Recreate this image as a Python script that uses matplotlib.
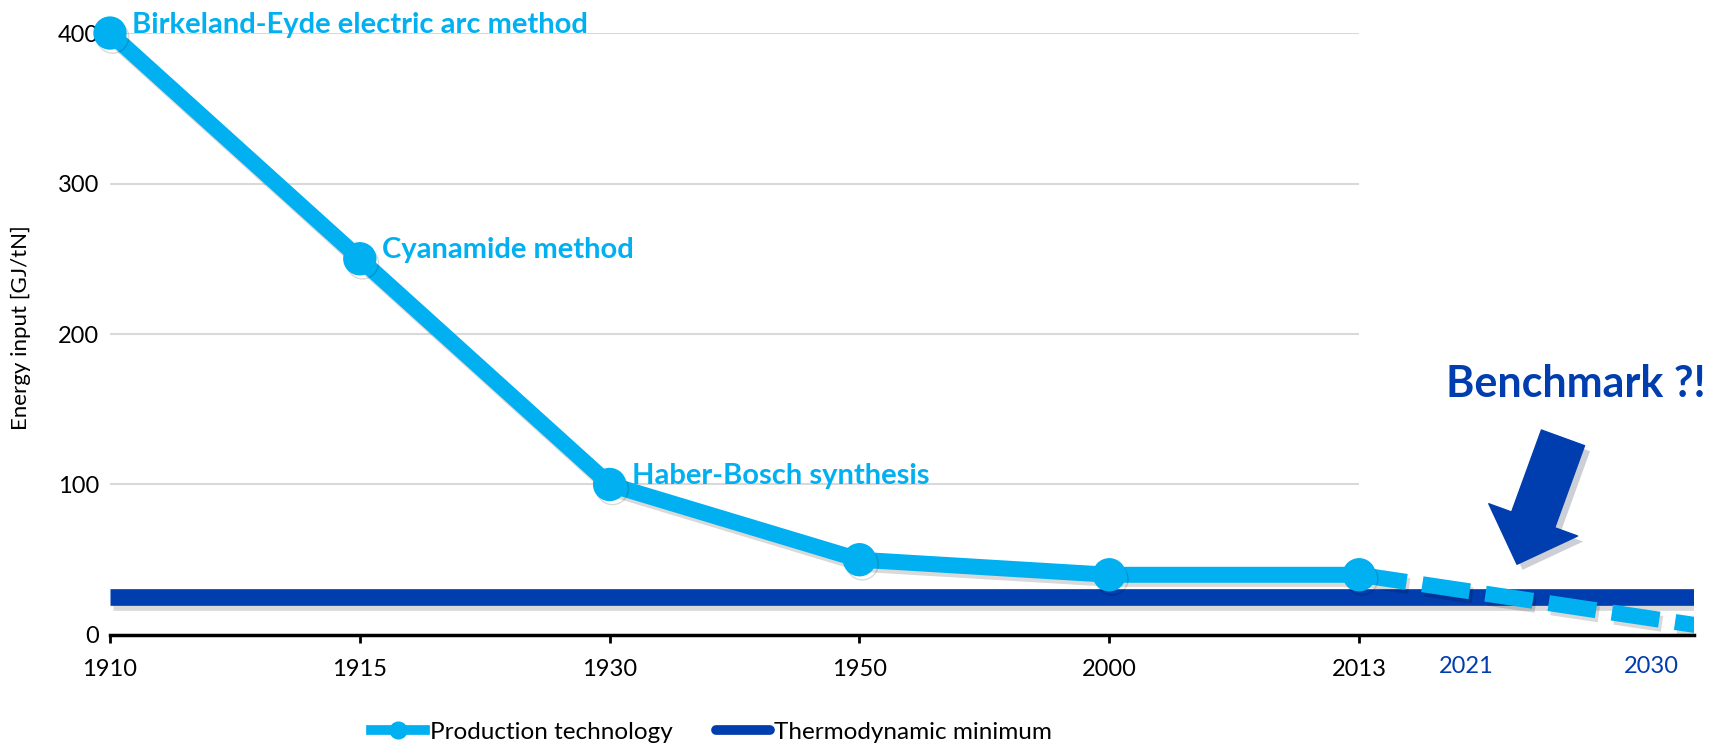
import matplotlib
matplotlib.use("Agg")
import matplotlib.pyplot as plt
import matplotlib.patheffects as pe
from matplotlib.lines import Line2D

plt.rcParams['font.family'] = ['Lato', 'DejaVu Sans']

# data
years = ["1910", "1915", "1930", "1950", "2000", "2013"]
energy = [400, 250, 100, 50, 40, 40]
methods = ["Birkeland-Eyde electric arc method", "Cyanamide method", "Haber-Bosch synthesis"]
projection = [40, 6]
future_years = ["2021", "2030"]
thermo_min = 25
y_ticks = [0, 100, 200, 300, 400]

LIGHT = "#00B0F0"
DARK = "#003DAE"

# layout (category index units)
x_end = 6.34
proj_end = 6.37
future_pos = [5.43, 6.17]

fig = plt.figure(figsize=(17.32, 7.51), dpi=100)
ax = fig.add_axes([0.0635, 0.1545, 0.978 - 0.0635, 0.956 - 0.1545])

xs = list(range(len(years)))
shadow = [pe.SimpleLineShadow(offset=(2, -3), alpha=0.15, shadow_color='k'), pe.Normal()]

ax.hlines(y_ticks[1:], 0, xs[-1], color="#D9D9D9", lw=1.5, zorder=1)

ax.plot([0, x_end], [thermo_min, thermo_min], color=DARK, lw=12,
        solid_capstyle='butt', zorder=3, path_effects=shadow)

ax.plot([xs[-1], proj_end], projection, color=LIGHT, lw=11.5, ls=(0, (3.0, 1.0)),
        dash_capstyle='butt', zorder=4, path_effects=shadow)

ax.plot(xs, energy, color=LIGHT, lw=11.5, marker='o', ms=23,
        solid_capstyle='round', zorder=5, clip_on=False, path_effects=shadow)

for i, name in enumerate(methods):
    ax.annotate(name, (xs[i], energy[i]), xytext=(16, 6), textcoords='offset points',
                color=LIGHT, fontsize=21, fontweight='bold', ha='left', va='center',
                zorder=6)

ax.text(5.348, 158, "Benchmark ?!", color=DARK, fontsize=31, fontweight='bold',
        ha='left', va='baseline')

ax.annotate('', xy=(5.632, 47), xytext=(5.816, 131),
            arrowprops=dict(arrowstyle='simple,tail_width=33,head_width=68,head_length=34',
                            fc=DARK, ec=DARK, mutation_scale=1, shrinkA=0, shrinkB=0,
                            path_effects=[pe.SimplePatchShadow(offset=(4, -4), alpha=0.2), pe.Normal()]),
            zorder=6)

ax.set_xlim(0, x_end)
ax.set_ylim(0, 400)
ax.set_xticks(xs, years)
ax.set_xticks(future_pos, future_years, minor=True)
ax.set_yticks(y_ticks)
ax.tick_params(axis='x', which='major', length=6, width=2, pad=11, labelsize=17, color='k')
ax.tick_params(axis='x', which='minor', length=0, pad=15.5, labelsize=17, labelcolor=DARK)
ax.tick_params(axis='y', length=0, pad=8, labelsize=17)

for s in ['top', 'right', 'left']:
    ax.spines[s].set_visible(False)
ax.spines['bottom'].set_linewidth(2.5)
ax.spines['bottom'].set_zorder(2)

ax.set_ylabel("Energy input [GJ/tN]", fontsize=16)
ax.yaxis.set_label_coords(-0.05, 0.51)

handles = [Line2D([], [], color=LIGHT, lw=7, marker='o', ms=12),
           Line2D([], [], color=DARK, lw=7, solid_capstyle='round')]
fig.legend(handles, ["Production technology", "Thermodynamic minimum"],
           loc='center', bbox_to_anchor=(0.411, 0.025), ncol=2, frameon=False,
           fontsize=17.5, handlelength=2.2, columnspacing=1.8, handletextpad=0.2)

fig.savefig("out.png", dpi=100)
